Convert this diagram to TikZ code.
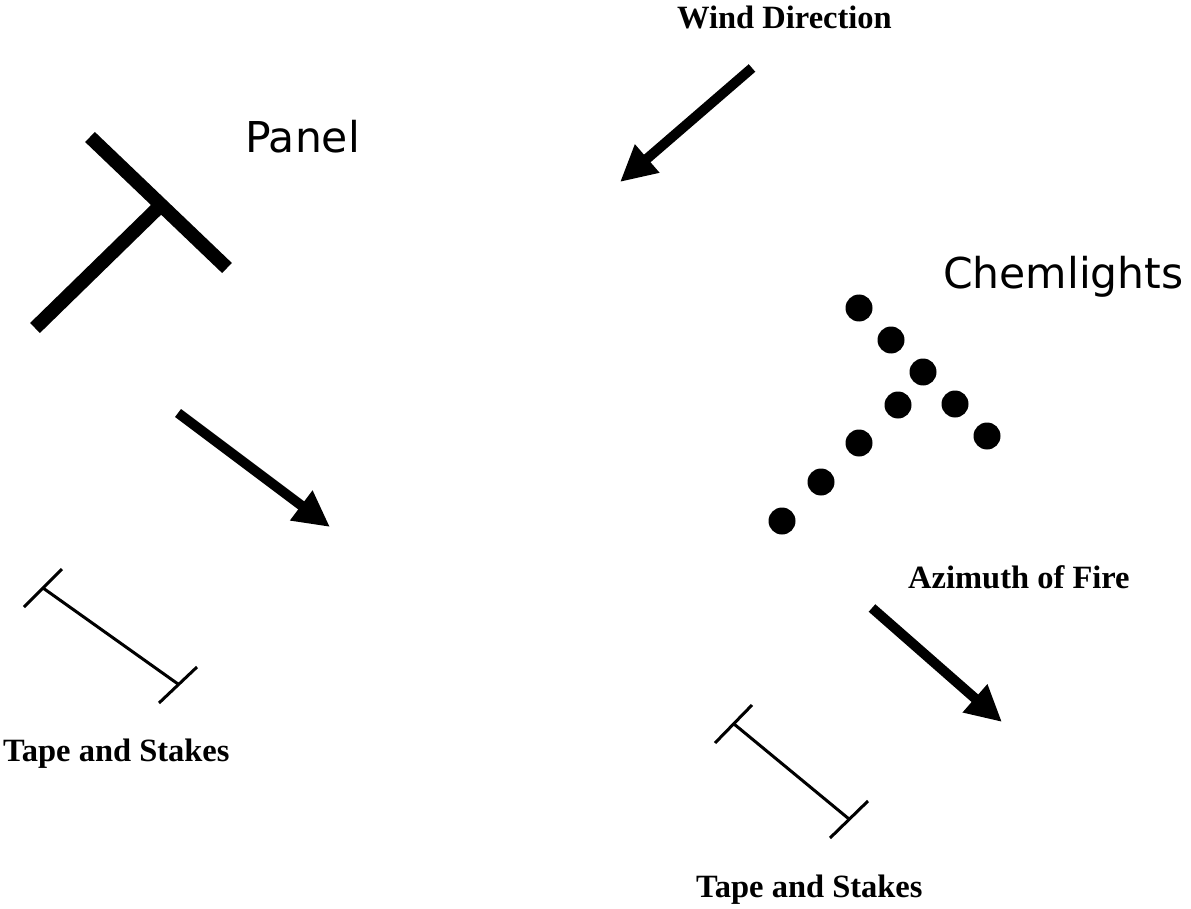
\documentclass[tikz,border=0pt]{standalone}
\usepackage{fontspec}
\setmainfont{Liberation Serif}
\newfontfamily\panelfont{DejaVu Sans}
\usetikzlibrary{arrows.meta}
\tikzset{
  bigarrow/.style={line width=10pt, -{Triangle[length=36pt,width=35pt]}},
  panelbar/.style={line width=14pt, line cap=butt},
  tapeline/.style={line width=3pt},
  chem/.style={circle, fill=black, minimum size=27pt, inner sep=0pt},
  lab/.style={anchor=base west, inner sep=0pt, font=\fontsize{32.5}{38}\selectfont\bfseries},
  sanslab/.style={anchor=base west, inner sep=0pt, font=\fontsize{42.5}{50}\selectfont\panelfont},
}
\begin{document}
\begin{tikzpicture}[x=1pt,y=-1pt]
\path[use as bounding box, fill=white] (0,0) rectangle (1191,909);

% labels
\node[lab] (wind) at (677,29) {Wind Direction};
\node[sanslab] (panel) at (245,153) {Panel};
\node[sanslab] (chem) at (943,289) {Chemlights};
\node[lab] (azi) at (908,588) {Azimuth of Fire};
\node[lab] (tapeL) at (3,761) {Tape and Stakes};
\node[lab] (tapeR) at (696,897) {Tape and Stakes};

% panel T
\coordinate (pa) at (90,137);
\coordinate (pb) at (227,268);
\coordinate (pj) at (160,206);
\coordinate (pc) at (35,328);
\draw[panelbar] (pa) -- (pb);
\draw[panelbar] (pc) -- (pj);

% arrows
\coordinate (w1) at (752,68);
\coordinate (w2) at (620,182);
\draw[bigarrow] (w1) -- (w2);
\coordinate (l1) at (178,413);
\coordinate (l2) at (330,527);
\draw[bigarrow] (l1) -- (l2);
\coordinate (r1) at (872,608);
\coordinate (r2) at (1002,722);
\draw[bigarrow] (r1) -- (r2);

% chemlights
\node[chem] (c1) at (859,308) {};
\node[chem] (c2) at (891,340) {};
\node[chem] (c3) at (923,372) {};
\node[chem] (c4) at (898,405) {};
\node[chem] (c5) at (955,404) {};
\node[chem] (c6) at (987,436) {};
\node[chem] (c7) at (859,443) {};
\node[chem] (c8) at (821,482) {};
\node[chem] (c9) at (782,521) {};

% tape and stakes left
\coordinate (a1) at (62,569);
\coordinate (a2) at (24,607);
\coordinate (a3) at (43,588);
\coordinate (a4) at (178,684);
\coordinate (a5) at (197,667);
\coordinate (a6) at (159,703);
\draw[tapeline] (a1) -- (a2);
\draw[tapeline] (a3) -- (a4);
\draw[tapeline] (a5) -- (a6);

% tape and stakes right
\coordinate (b1) at (752,705);
\coordinate (b2) at (715,743);
\coordinate (b3) at (734,724);
\coordinate (b4) at (849,819);
\coordinate (b5) at (868,801);
\coordinate (b6) at (830,838);
\draw[tapeline] (b1) -- (b2);
\draw[tapeline] (b3) -- (b4);
\draw[tapeline] (b5) -- (b6);
\end{tikzpicture}
\end{document}
